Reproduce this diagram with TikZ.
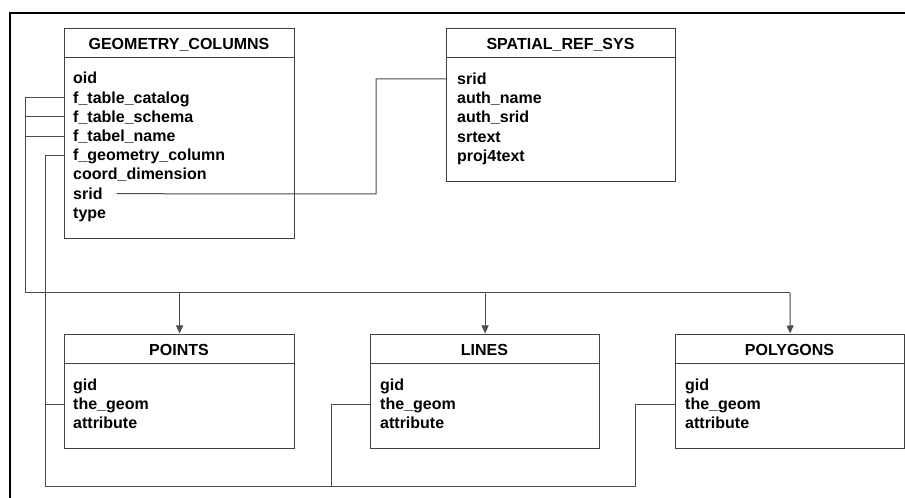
\documentclass[tikz,border=0pt]{standalone}
\usepackage{fontspec}
\setmainfont{Liberation Sans}
\usetikzlibrary{arrows.meta}
\begin{document}
\begin{tikzpicture}[x=1pt,y=1pt,
  tbl/.style={draw=black!75, line width=1.2pt, inner sep=0pt, anchor=north west},
  hdr/.style={draw=black!75, line width=1pt},
  ttl/.style={font=\fontsize{16}{19}\selectfont\bfseries, inner sep=0pt, text height=12pt, text depth=0pt},
  row/.style={font=\fontsize{16}{19}\selectfont\bfseries, inner sep=0pt, anchor=west, text height=12pt, text depth=1pt},
  conn/.style={draw=black!70, line width=1pt},
  arr/.style={conn, -{Triangle[width=7pt,length=8pt]}, shorten >=0.5pt}]
\useasboundingbox (0,0) rectangle (905,498);
\fill[white] (0,0) rectangle (905,498);
% frame
\draw[line width=2.5pt] (10,0) -- (10,485) -- (905,485);
% GEOMETRY_COLUMNS
\node[tbl, minimum width=230pt, minimum height=210pt] (gc) at (64,470) {};
\draw[hdr] (64,440) -- (294,440);
\node[ttl] (gct) at (179,454) {GEOMETRY\_COLUMNS};
\foreach \t [count=\i] in {oid,f\_table\_catalog,f\_table\_schema,f\_tabel\_name,f\_geometry\_column,coord\_dimension,srid,type}
  \node[row] (gc\i) at (73,{498-78.5-19.2*(\i-1)}) {\t};
% SPATIAL_REF_SYS
\node[tbl, minimum width=229pt, minimum height=153pt] (srs) at (446,470) {};
\draw[hdr] (446,440) -- (675,440);
\node[ttl] (srst) at (560.5,454) {SPATIAL\_REF\_SYS};
\foreach \t [count=\i] in {srid,auth\_name,auth\_srid,srtext,proj4text}
  \node[row] (srs\i) at (457,{498-79-19.2*(\i-1)}) {\t};
% POINTS
\node[tbl, minimum width=230pt, minimum height=114pt] (pts) at (64,164) {};
\draw[hdr] (64,134) -- (294,134);
\node[ttl] (ptst) at (179,148) {POINTS};
\foreach \t [count=\i] in {gid,the\_geom,attribute}
  \node[row] (pt\i) at (73,{498-385-19.2*(\i-1)}) {\t};
% LINES
\node[tbl, minimum width=229pt, minimum height=114pt] (lns) at (370,164) {};
\draw[hdr] (370,134) -- (599,134);
\node[ttl] (lnst) at (484.5,148) {LINES};
\foreach \t [count=\i] in {gid,the\_geom,attribute}
  \node[row] (ln\i) at (380,{498-385-19.2*(\i-1)}) {\t};
% POLYGONS
\node[tbl, minimum width=229pt, minimum height=114pt] (pgs) at (675,164) {};
\draw[hdr] (675,134) -- (904,134);
\node[ttl] (pgst) at (789.5,148) {POLYGONS};
\foreach \t [count=\i] in {gid,the\_geom,attribute}
  \node[row] (pg\i) at (685,{498-385-19.2*(\i-1)}) {\t};
% bus coordinates
\coordinate (busC) at (25,205);
\coordinate (busR) at (790,205);
\coordinate (geoBL) at (45,11);
\coordinate (geoBM) at (331,11);
\coordinate (geoBR) at (635,11);
\coordinate (sridJ) at (376,{498-194});
% connectors
\draw[conn] (gc.west |- gc2) -| (busC) -- (busR);
\draw[conn] (gc.west |- gc3) -- (busC |- gc3);
\draw[conn] (gc.west |- gc4) -- (busC |- gc4);
\draw[arr] (busC -| pts.north) -- (pts.north);
\draw[arr] (busC -| lns.north) -- (lns.north);
\draw[arr] (busR) -- (pgs.north);
\draw[conn] (gc.west |- gc5) -| (geoBL) -- (geoBR) |- (pgs.west |- pg2);
\draw[conn] (pts.west |- pt2) -- (geoBL |- pt2);
\draw[conn] (lns.west |- ln2) -| (geoBM);
\draw[conn] ([xshift=14pt]gc7.east) -- (sridJ) |- (srs.west |- srs1);
\end{tikzpicture}
\end{document}
